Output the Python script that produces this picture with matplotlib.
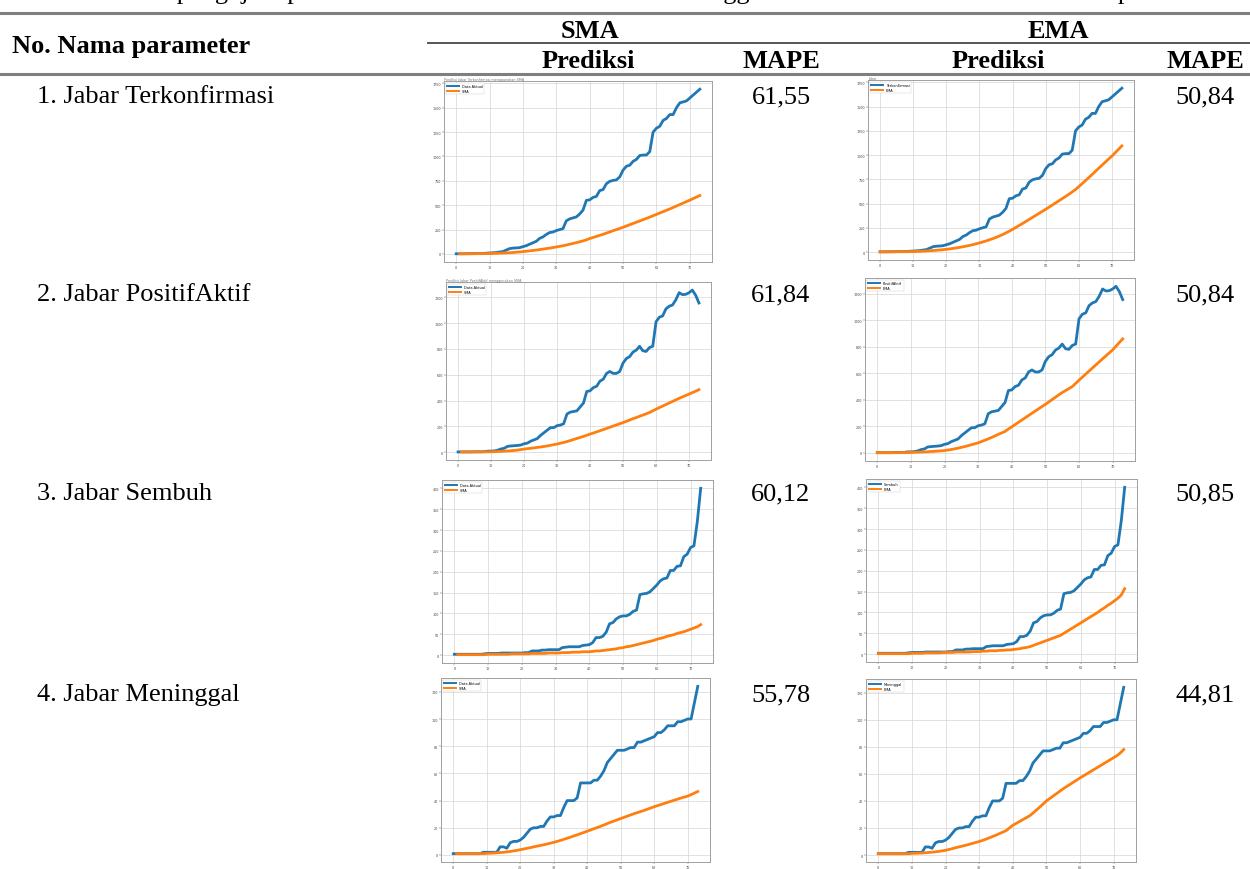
import numpy as np
import matplotlib
matplotlib.use("Agg")
import matplotlib.pyplot as plt

W, H = 1250, 870

# ---- data (days 0..73) ----
terkonfirmasi = [2, 2, 2, 3, 3, 4, 4, 4, 5, 8, 10, 12, 15, 20, 25, 40, 55, 60, 62, 65,
                 75, 85, 100, 115, 130, 160, 175, 200, 220, 225, 240, 250, 260, 340, 360, 370, 380, 410, 450, 550,
                 555, 580, 590, 650, 660, 720, 745, 755, 760, 790, 860, 900, 910, 950, 970, 1010, 1015, 1015, 1050, 1250,
                 1290, 1310, 1370, 1390, 1430, 1430, 1500, 1550, 1560, 1570, 1600, 1630, 1660, 1690]
positif_aktif = [2, 2, 2, 2, 2, 3, 3, 3, 4, 8, 8, 10, 15, 25, 30, 45, 48, 50, 52, 55,
                 65, 70, 85, 95, 105, 130, 150, 170, 190, 190, 205, 210, 220, 295, 310, 315, 320, 350, 380, 470,
                 475, 500, 510, 550, 565, 610, 625, 610, 610, 625, 690, 725, 740, 775, 790, 820, 785, 780, 810, 820,
                 1010, 1045, 1055, 1110, 1130, 1140, 1180, 1235, 1220, 1222, 1235, 1255, 1215, 1155]
sembuh = [2, 2, 2, 2, 2, 2, 2, 2, 2, 3, 4, 4, 4, 4, 5, 5, 5, 5, 5, 5,
          5, 6, 6, 10, 10, 10, 12, 12, 13, 13, 13, 13, 18, 19, 20, 20, 20, 20, 23, 24,
          25, 30, 42, 42, 45, 55, 75, 78, 87, 92, 94, 94, 98, 105, 108, 145, 147, 148, 152, 160,
          168, 178, 183, 185, 203, 203, 213, 214, 236, 242, 258, 262, 320, 400]
meninggal = [1, 1, 1, 1, 1, 1, 1, 1, 1, 2, 2, 2, 2, 2, 6, 6, 5, 9, 10, 10,
             11, 13, 16, 19, 20, 20, 21, 21, 25, 28, 28, 29, 29, 35, 40, 40, 40, 42, 53, 53,
             53, 53, 55, 55, 58, 62, 68, 71, 74, 77, 77, 77, 78, 79, 79, 83, 83, 84, 85, 86,
             87, 90, 90, 92, 95, 95, 95, 98, 98, 99, 100, 100, 112, 124]

# SMA predictions start at day 1
sma_terkonfirmasi = [2, 2, 2, 2, 2, 3, 3, 3, 4, 5, 6, 7, 8, 10, 11, 13, 15, 18, 21,
                     24, 28, 32, 36, 40, 45, 50, 55, 60, 66, 72, 78, 84, 92, 100, 108, 116, 125, 134, 145,
                     158, 169, 180, 191, 202, 214, 226, 238, 250, 262, 274, 287, 300, 313, 326, 339, 352, 365, 378, 392,
                     406, 420, 434, 448, 462, 477, 492, 507, 522, 537, 552, 568, 584, 600]
sma_positif = [2, 2, 2, 2, 2, 2, 2, 2, 3, 3, 4, 5, 6, 8, 9, 11, 13, 16, 20,
               24, 27, 30, 33, 37, 40, 44, 48, 53, 58, 63, 69, 75, 82, 90, 98, 106, 114, 122, 131,
               140, 148, 157, 166, 175, 184, 193, 202, 211, 220, 229, 239, 249, 259, 268, 278, 287, 297, 307, 320,
               333, 345, 357, 369, 381, 393, 405, 417, 428, 439, 450, 461, 472, 484]
sma_sembuh = [1, 1, 1, 1, 1, 1, 1, 1, 1, 2, 2, 2, 2, 2, 2, 2, 3, 3, 3,
              3, 3, 3, 4, 4, 4, 4, 4, 5, 5, 5, 5, 6, 6, 6, 7, 7, 7, 8, 8,
              8, 9, 10, 10, 11, 12, 13, 14, 15, 17, 18, 20, 21, 23, 25, 27, 29, 31, 33, 35,
              38, 40, 42, 45, 47, 49, 52, 54, 56, 59, 62, 65, 68, 73]
sma_meninggal = [1, 1, 1, 1, 1, 1, 1, 1, 1, 1.2, 1.3, 1.4, 1.6, 1.8, 2.0, 2.3, 2.6, 3.0, 3.4,
                 3.9, 4.4, 4.9, 5.4, 6.0, 6.5, 7.0, 7.5, 8.1, 8.7, 9.3, 10.0, 10.7, 11.5, 12.3, 13.1, 14.0, 14.8, 15.7, 16.6,
                 17.5, 18.4, 19.3, 20.2, 21.1, 22.1, 23.1, 24.1, 25.0, 25.9, 26.8, 27.7, 28.6, 29.5, 30.4, 31.2, 32.0, 32.8, 33.7, 34.6,
                 35.5, 36.3, 37.1, 37.9, 38.7, 39.5, 40.3, 41.1, 41.9, 42.6, 43.3, 44.4, 45.5, 46.7]

# EMA predictions from day 0
ema_terkonfirmasi = [2, 2, 2, 2, 2, 3, 3, 3, 3, 4, 5, 6, 7, 9, 11, 13, 15, 18, 21, 24,
                     28, 32, 37, 42, 48, 54, 61, 68, 76, 85, 94, 104, 114, 126, 138, 151, 165, 180, 197, 215,
                     234, 254, 274, 294, 315, 336, 357, 378, 399, 420, 441, 463, 485, 507, 529, 551, 573, 596, 620, 645,
                     675, 705, 737, 768, 800, 832, 864, 896, 928, 960, 990, 1025, 1060, 1095]
ema_positif = [2, 2, 2, 2, 2, 2, 2, 2, 3, 3, 4, 5, 6, 7, 8, 9, 11, 12, 14, 16,
               18, 22, 26, 31, 36, 42, 48, 55, 62, 69, 76, 86, 96, 106, 117, 128, 140, 151, 162, 180,
               197, 214, 231, 248, 265, 282, 299, 316, 333, 350, 366, 384, 402, 420, 438, 455, 470, 485, 500, 524,
               548, 571, 594, 617, 640, 663, 686, 709, 731, 754, 776, 804, 832, 859]
ema_sembuh = [1, 1, 1, 1, 1, 1, 1, 1, 1, 1, 2, 2, 2, 2, 3, 3, 3, 3, 3, 4,
              4, 4, 4, 5, 5, 5, 5, 5, 6, 6, 6, 7, 7, 8, 8, 8, 9, 9, 10, 10,
              11, 12, 13, 15, 16, 18, 21, 24, 27, 30, 33, 36, 39, 42, 45, 50, 55, 60, 65, 70,
              75, 80, 85, 90, 95, 100, 106, 111, 117, 122, 128, 134, 142, 157]
ema_meninggal = [1, 1, 1, 1, 1, 1, 1, 1, 1, 1, 1.2, 1.3, 1.4, 1.5, 1.7, 1.9, 2.1, 2.4, 2.7, 3.1,
                 3.5, 4.1, 4.7, 5.4, 6.0, 6.6, 7.2, 7.9, 8.6, 9.3, 10.0, 10.8, 11.7, 12.7, 13.7, 14.7, 15.8, 16.9, 18.0, 20.0,
                 22.0, 23.4, 24.8, 26.2, 27.6, 29.0, 31.0, 33.2, 35.4, 37.7, 40.0, 41.8, 43.6, 45.4, 47.2, 49.0, 50.6, 52.2, 53.8, 55.4,
                 57.0, 58.5, 60.0, 61.5, 63.0, 64.5, 66.0, 67.5, 69.0, 70.5, 72.0, 73.5, 75.5, 78.0]

row_labels = ["1. Jabar Terkonfirmasi", "2. Jabar PositifAktif", "3. Jabar Sembuh", "4. Jabar Meninggal"]
ema_legend = ["Terkonfirmasi", "PositifAktif", "Sembuh", "Meninggal"]
mape_sma = ["61,55", "61,84", "60,12", "55,78"]
mape_ema = ["50,84", "50,84", "50,85", "44,81"]

actual = [terkonfirmasi, positif_aktif, sembuh, meninggal]
sma = [sma_terkonfirmasi, sma_positif, sma_sembuh, sma_meninggal]
ema = [ema_terkonfirmasi, ema_positif, ema_sembuh, ema_meninggal]

# ---- layout, in pixels of the 1250x870 picture ----
row_y = [97, 295, 494, 695]
sma_box = [(444, 82, 712, 263), (446, 283, 711, 461), (442, 481, 713, 664), (441, 679, 710, 863)]
ema_box = [(868, 81, 1134, 261), (865, 279, 1135, 462), (866, 480, 1137, 663), (866, 680, 1136, 863)]

BLUE = "#1f77b4"
ORANGE = "#ff7f0e"
SERIF = ["Liberation Serif", "DejaVu Serif"]
FS = 19

fig = plt.figure(figsize=(W / 100, H / 100), dpi=100)


def fx(x):
    return x / W


def fy(y):
    return 1 - y / H


def put(x, y, s, ha="left", bold=False, size=FS):
    fig.text(fx(x), fy(y), s, ha=ha, va="center", fontsize=size,
             family=SERIF, weight="bold" if bold else "normal", color="black")


def hline(y, x0, x1, lw=2.0, color="#7f7f7f"):
    fig.add_artist(plt.Line2D([fx(x0), fx(x1)], [fy(y), fy(y)], lw=lw, color=color,
                              transform=fig.transFigure))


def thumb(box, y_act, y_pred, x0_pred, labels, title=None):
    l, t, r, b = box
    ax = fig.add_axes([fx(l), fy(b), (r - l) / W, (b - t) / H])
    ax.plot(np.arange(len(y_act)), y_act, color=BLUE, lw=2.0, label=labels[0])
    ax.plot(np.arange(x0_pred, x0_pred + len(y_pred)), y_pred, color=ORANGE, lw=2.0, label=labels[1])
    ax.grid(True, color="#d4d4d4", lw=0.5)
    ax.set_axisbelow(True)
    ax.tick_params(labelsize=2.4, length=1.2, width=0.3, pad=1, colors="#444444")
    for sp in ax.spines.values():
        sp.set_color("#a0a0a0")
        sp.set_linewidth(0.7)
    leg = ax.legend(loc="upper left", fontsize=2.5, handlelength=3.5, borderpad=0.4,
                    labelspacing=0.2, framealpha=1, fancybox=True)
    leg.get_frame().set_linewidth(0.3)
    for line in leg.get_lines():
        line.set_linewidth(1.4)
    if title:
        ax.set_title(title, fontsize=2.4, loc="left", color="#777777", pad=1)
    return ax


# caption line cut off by the top edge (only descenders show)
fig.text(fx(23), fy(-1), "Tabel 3. Hasil pengujian prediksi data COVID-19 Jawa Barat menggunakan SMA dan EMA untuk setiap kasus",
         ha="left", va="baseline", fontsize=FS, family=SERIF)

hline(14, 0, W, lw=2.2)
hline(44, 428, W, lw=1.4, color="#555555")
hline(75, 0, W, lw=2.2)

put(12, 47, "No. Nama parameter", bold=True)
put(590, 32, "SMA", ha="center", bold=True)
put(1058, 32, "EMA", ha="center", bold=True)
put(588, 62, "Prediksi", ha="center", bold=True)
put(781, 62, "MAPE", ha="center", bold=True)
put(998, 62, "Prediksi", ha="center", bold=True)
put(1205, 62, "MAPE", ha="center", bold=True)

for i in range(4):
    put(37, row_y[i], row_labels[i])
    put(781, row_y[i], mape_sma[i], ha="center")
    put(1205, row_y[i], mape_ema[i], ha="center")
    t_sma = "Prediksi Jabar " + ema_legend[i] + " menggunakan SMA" if i < 2 else None
    t_ema = "Jabar" if i == 0 else None
    thumb(sma_box[i], actual[i], sma[i], 1, ["Data Aktual", "SMA"], t_sma)
    thumb(ema_box[i], actual[i], ema[i], 0, [ema_legend[i], "EMA"], t_ema)

fig.savefig("out.png", dpi=100)
